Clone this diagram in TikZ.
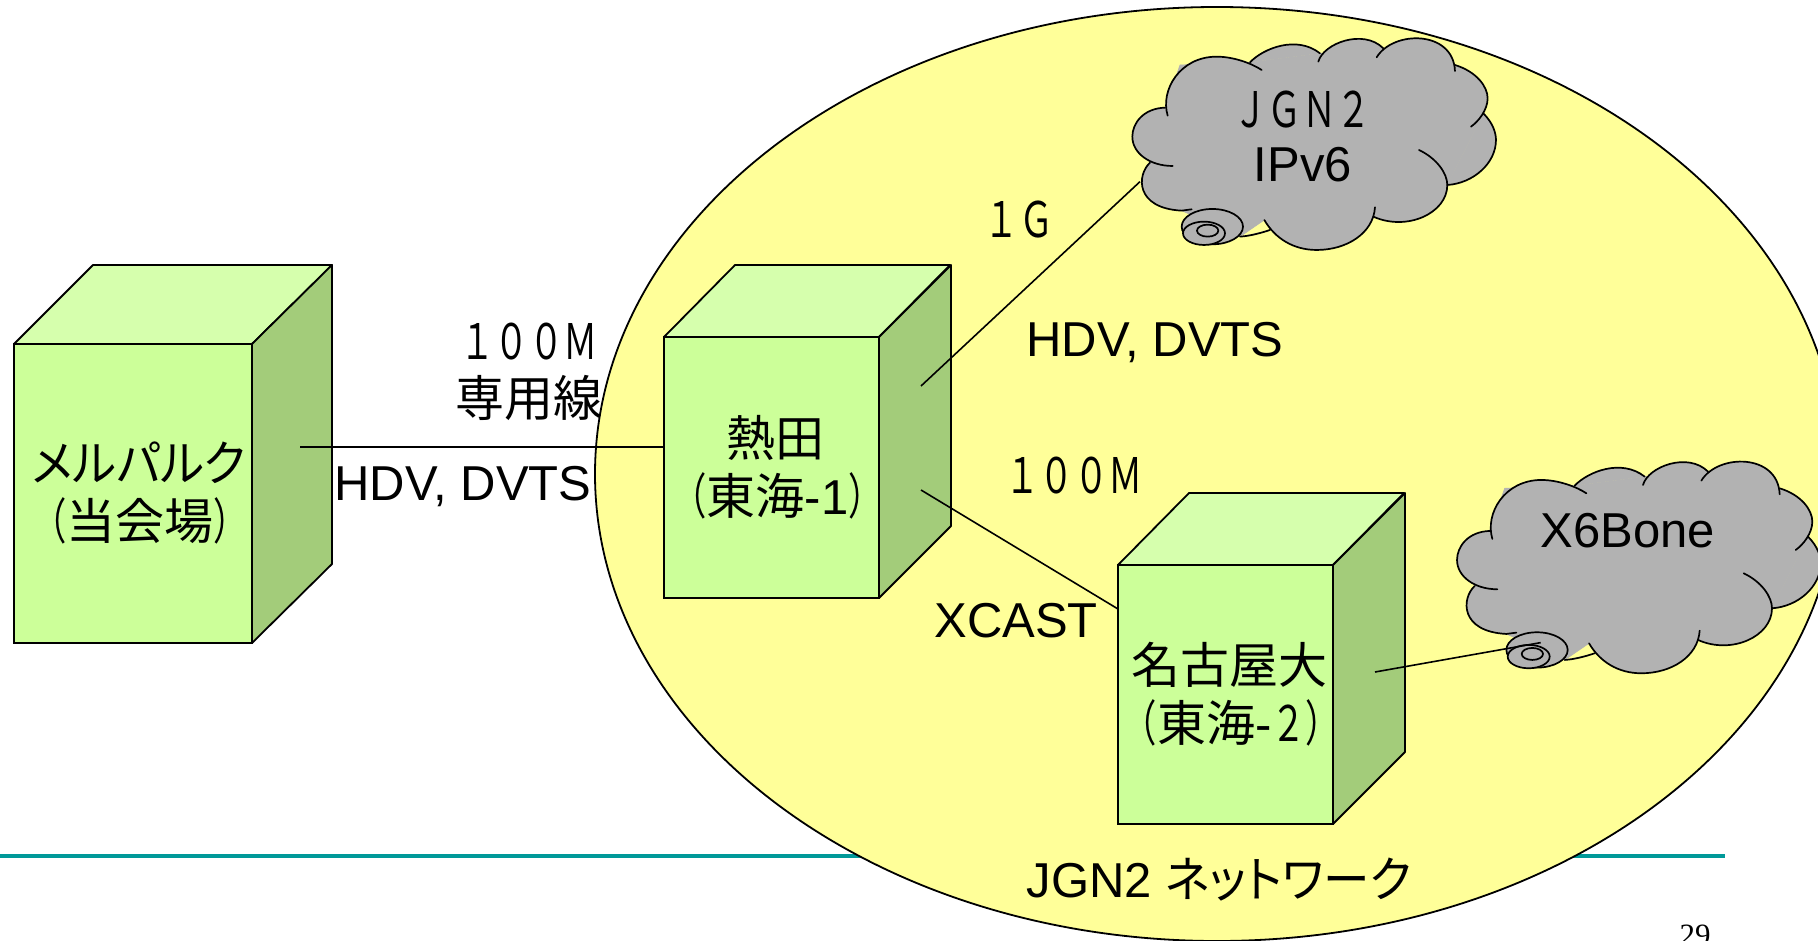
\documentclass[tikz,border=0pt]{standalone}
\usepackage{fontspec}
\setmainfont{Liberation Sans}
\newfontfamily\jp{Noto Sans CJK JP}
\newfontfamily\jpp[RawFeature=+palt,FakeStretch=0.95]{Noto Sans CJK JP}
\newfontfamily\jpn[FakeStretch=0.7]{Noto Sans CJK JP}
\newfontfamily\tms{Liberation Serif}
\definecolor{frontc}{HTML}{CCFF99}
\definecolor{topc}{HTML}{D6FFAD}
\definecolor{sidec}{HTML}{A3CC7A}
\definecolor{netc}{HTML}{FFFF99}
\definecolor{cloudc}{HTML}{B2B2B2}
\definecolor{rulec}{HTML}{009999}
\newcommand\sz{\fontsize{49}{58}\selectfont}
\usetikzlibrary{calc}
\tikzset{
  every node/.style={inner sep=0pt,outer sep=0pt},
  lbl/.style={font=\sz,align=center},
  frontbox/.style={draw=black,line width=1.8pt,fill=frontc,font=\sz,align=center,minimum width=#1},
  face/.style={draw=black,line width=1.8pt,line join=round},
  wire/.style={draw=black,line width=1.6pt},
  lobeline/.style={draw=black,line width=1.7pt,line cap=round}
}
\newcommand\lobe[1]{}
\newcommand\cloudlobes{%
  \lobe{(150,488) .. controls (110,525) and (105,625) .. (245,632) -- (275,628)}
  \lobe{(195,323) .. controls (130,325) and (97,370) .. (97,410) .. controls (97,460) and (150,498) .. (218,498)}
  \lobe{(203,347) .. controls (180,270) and (240,170) .. (350,170) .. controls (400,170) and (455,190) .. (485,210)}
  \lobe{(450,187) .. controls (490,145) and (590,105) .. (660,160)}
  \lobe{(655,185) .. controls (670,130) and (790,85) .. (850,145)}
  \lobe{(830,172) .. controls (880,90) and (1060,90) .. (1065,213)}
  \lobe{(1065,195) .. controls (1130,215) and (1163,260) .. (1163,295) .. controls (1163,330) and (1135,365) .. (1113,380)}
  \lobe{(1150,340) .. controls (1180,370) and (1188,400) .. (1188,420) .. controls (1188,490) and (1120,550) .. (1042,555)}
  \lobe{(957,450) .. controls (1010,475) and (1042,520) .. (1042,555) .. controls (1042,640) and (920,695) .. (820,650)}
  \lobe{(825,622) .. controls (820,700) and (740,750) .. (650,750) .. controls (580,750) and (525,715) .. (493,660)}
  \lobe{(510,690) .. controls (480,700) and (450,708) .. (420,710)}
}
\newcommand\cloudshape{%
  \filldraw[fill=cloudc,draw=cloudc,line width=.6pt] (245,632)--(150,488)--(195,323)--(240,195)--(450,187)--(660,160)--(850,145)--(1065,195)--(1150,340)--(1042,555)--(820,650)--(650,750)--(493,660)--(420,710)--cycle;
  \renewcommand\lobe[1]{\filldraw[fill=cloudc,draw=cloudc,line width=.6pt] ##1;}
  \cloudlobes
  \renewcommand\lobe[1]{\draw[lobeline] ##1;}
  \cloudlobes
  \filldraw[fill=cloudc,lobeline] (337,680) ellipse [x radius=92,y radius=53];
  \filldraw[fill=cloudc,lobeline] (312,700) ellipse [x radius=63,y radius=35];
  \filldraw[fill=cloudc,lobeline] (323,692) ellipse [x radius=32,y radius=18];
}
\newcommand\sides[1]{%
  \draw[face,fill=topc] (#1.north west) -- ++(71,-72) -- ++(215,0) -- (#1.north east) -- cycle;
  \draw[face,fill=sidec] (#1.north east) -- ++(72,-72) -- ($(#1.south east)+(72,-72)$) -- (#1.south east) -- cycle;
}
\begin{document}
\begin{tikzpicture}[x=1pt,y=-1pt]
\useasboundingbox (0,0) rectangle (1818,941);
\clip (0,0) rectangle (1818,941);
% rule
\coordinate (ruleL) at (0,856);
\coordinate (ruleR) at (1725,856);
\draw[rulec,line width=4pt] (ruleL) -- (ruleR);
% network ellipse
\draw[fill=netc,draw=black,line width=1.8pt] (1217,474) ellipse [x radius=622,y radius=467];
% boxes
\node[frontbox=238pt,minimum height=299pt] (meru) at (133,493.5) {\hspace*{12pt}{\jpp メルパルク}\\\hspace*{14pt}{\jpn （}{\jp 当会場}{\jpn ）}};
\draw[face,fill=topc] (meru.north west) -- ++(79,-79) -- ++(239,0) -- (meru.north east) -- cycle;
\draw[face,fill=sidec] (meru.north east) -- ++(80,-79) -- ($(meru.south east)+(80,-79)$) -- (meru.south east) -- cycle;
\node[frontbox=215pt,minimum height=261pt] (atsuta) at (771.5,467.5) {\hspace*{8pt}{\jp 熱田}\\\hspace*{12pt}\makebox[0pt]{\jpn （\jp 東海\rmfamily -1\jpn ）}};
\sides{atsuta}
\node[frontbox=215pt,minimum height=259pt] (nagoya) at (1225.5,694.5) {\hspace*{8pt}{\jp 名古屋大}\\\hspace*{12pt}\makebox[0pt]{\jpn （\jp 東海\rmfamily -\jpn ２）}};
\sides{nagoya}
% clouds
\begin{scope}[shift={(1100,0)},x=0.3333pt,y=-0.3333pt]
\cloudshape
\coordinate (jgnport) at (120,545);
\end{scope}
\begin{scope}[shift={(1424.7,423.3)},x=0.3333pt,y=-0.3333pt]
\cloudshape
\coordinate (x6port) at (348,658);
\end{scope}
% connectors
\coordinate (meruport) at (300,447);
\coordinate (atsutaup) at (921,386);
\coordinate (atsutadn) at (921,490);
\coordinate (nagoyaport) at (1375,672);
\draw[wire] (meruport) -- (atsuta.west |- meruport);
\draw[wire] (atsutaup) -- (jgnport);
\draw[wire] (atsutadn) -- (nagoya.west |- 0,609);
\draw[wire] (nagoyaport) -- (x6port);
% labels
\node[lbl] (l100a) at (529,342) {\jpn １００Ｍ};
\node[lbl] (lsen) at (529,398) {\jp 専用線};
\node[lbl] (lhdva) at (463,487) {HDV, DVTS};
\node[lbl] (l1g) at (1019,220) {\jpn １Ｇ};
\node[lbl] (lhdvb) at (1155,343) {HDV, DVTS};
\node[lbl] (l100b) at (1074,476) {\jpn １００Ｍ};
\node[lbl] (lxcast) at (1016,621) {XCAST};
\node[lbl] (lnet) at (1219,880) {JGN2 {\jpp ネットワーク}};
\node[lbl] (ljgn) at (1302,110) {\jpn ＪＧＮ２};
\node[lbl] (lipv6) at (1303,165) {IPv6};
\node[lbl] (lx6) at (1628,531) {X6Bone};
\node[anchor=base,font=\fontsize{31}{32}\selectfont\tms] (lpage) at (1695,945) {29};
\end{tikzpicture}
\end{document}
